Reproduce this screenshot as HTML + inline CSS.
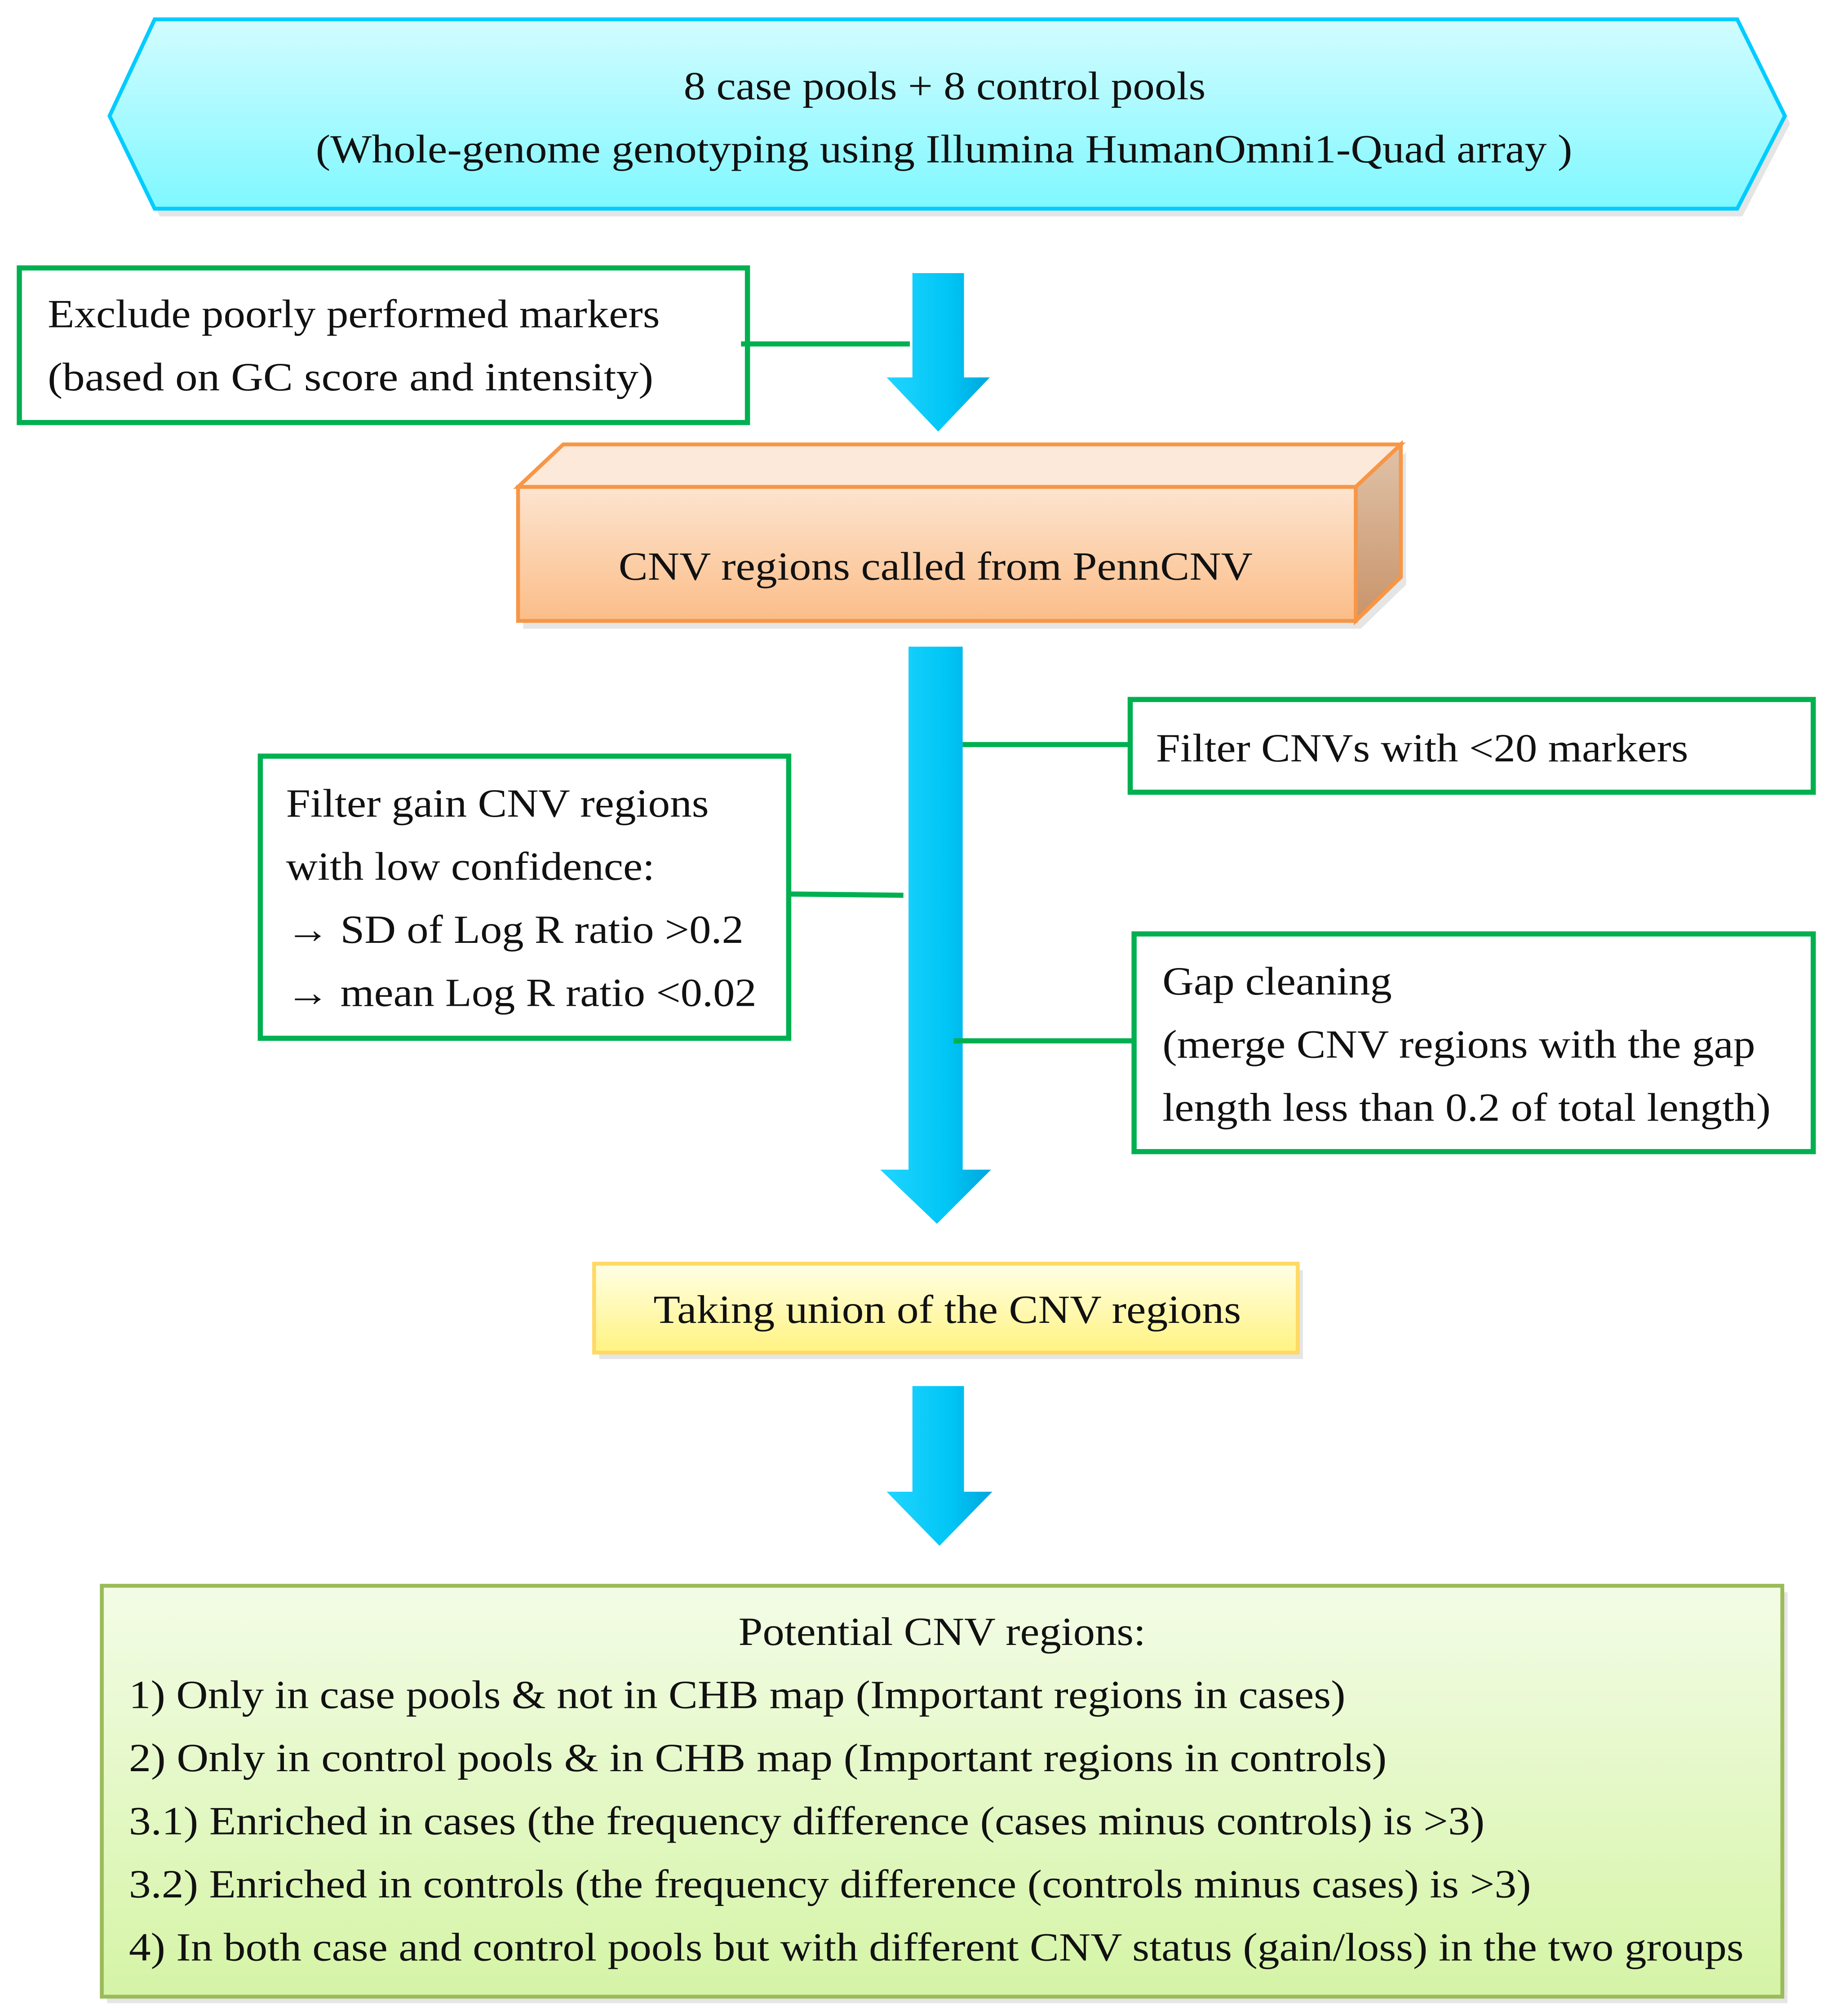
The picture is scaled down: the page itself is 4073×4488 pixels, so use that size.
<!DOCTYPE html>
<html><head><meta charset="utf-8"><style>html,body{margin:0;padding:0;background:#fff}svg{display:block}</style></head><body>
<svg width="4073" height="4488" viewBox="0 0 1420 1565" preserveAspectRatio="none" xmlns="http://www.w3.org/2000/svg" font-family="'Liberation Serif',serif" font-size="31" fill="#111">
<defs>
<linearGradient id="cy" x1="0" y1="0" x2="0" y2="1"><stop offset="0" stop-color="#d2fcff"/><stop offset="1" stop-color="#7ff8ff"/></linearGradient>
<linearGradient id="or" x1="0" y1="0" x2="0" y2="1"><stop offset="0" stop-color="#fde4cf"/><stop offset="1" stop-color="#fbbd88"/></linearGradient>
<linearGradient id="ye" x1="0" y1="0" x2="0" y2="1"><stop offset="0" stop-color="#ffffe6"/><stop offset="1" stop-color="#fff380"/></linearGradient>
<linearGradient id="gr" x1="0" y1="0" x2="0" y2="1"><stop offset="0" stop-color="#f3fce6"/><stop offset="1" stop-color="#d5f4a6"/></linearGradient>
<linearGradient id="ar" x1="0" y1="0" x2="1" y2="0"><stop offset="0" stop-color="#22d4ff"/><stop offset="0.6" stop-color="#00c6f6"/><stop offset="1" stop-color="#00a6dc"/></linearGradient>
<linearGradient id="sd" x1="0" y1="0" x2="0" y2="1"><stop offset="0" stop-color="#e0c2a8"/><stop offset="1" stop-color="#c8946a"/></linearGradient>
</defs>
<!-- hexagon -->
<polygon points="124,21 1352,21 1389,96 1352,168 124,168 89,96" fill="#ccc" opacity="0.5"/>
<polygon points="120,15 1348,15 1385,90 1348,162 120,162 85,90" fill="url(#cy)" stroke="#00ccff" stroke-width="3"/>
<text x="733" y="77" text-anchor="middle" textLength="405" lengthAdjust="spacingAndGlyphs">8 case pools + 8 control pools</text>
<text x="245" y="126" textLength="975" lengthAdjust="spacingAndGlyphs">(Whole-genome genotyping using Illumina HumanOmni1-Quad array )</text>
<!-- box1 -->
<rect x="15" y="208" width="565" height="120" fill="#fff" stroke="#00b050" stroke-width="4"/>
<text x="37" y="254" textLength="475" lengthAdjust="spacingAndGlyphs">Exclude poorly performed markers</text>
<text x="37" y="303" textLength="470" lengthAdjust="spacingAndGlyphs">(based on GC score and  intensity)</text>
<line x1="575" y1="267" x2="706" y2="267" stroke="#00b050" stroke-width="4"/>
<polygon points="708,212 748,212 748,293 768,293 728,335 688,293 708,293" fill="url(#ar)"/>
<!-- orange -->
<polygon points="406,384 1056,384 1091,351 1091,454 1056,488 406,488" fill="#ccc" opacity="0.5"/>
<polygon points="402,378 437,345 1087,345 1052,378" fill="#fde9d9" stroke="#f79646" stroke-width="3"/>
<polygon points="1052,378 1087,345 1087,448 1052,482" fill="url(#sd)" stroke="#f79646" stroke-width="3"/>
<rect x="402" y="378" width="650" height="104" fill="url(#or)" stroke="#f79646" stroke-width="3"/>
<text x="480" y="450" textLength="492" lengthAdjust="spacingAndGlyphs">CNV regions called from PennCNV</text>
<!-- arrow 2 -->
<polygon points="705,502 747,502 747,908 769,908 727,950 683,908 705,908" fill="url(#ar)"/>
<line x1="747" y1="578" x2="877" y2="578" stroke="#00b050" stroke-width="4"/>
<rect x="877" y="543" width="530" height="72" fill="#fff" stroke="#00b050" stroke-width="4"/>
<text x="897" y="591" textLength="413" lengthAdjust="spacingAndGlyphs">Filter  CNVs with &lt;20 markers</text>
<line x1="612" y1="694" x2="701" y2="695" stroke="#00b050" stroke-width="4"/>
<rect x="202" y="587" width="410" height="219" fill="#fff" stroke="#00b050" stroke-width="4"/>
<text x="222" y="634" textLength="328" lengthAdjust="spacingAndGlyphs">Filter gain CNV regions</text>
<text x="222" y="683" textLength="286" lengthAdjust="spacingAndGlyphs">with low confidence:</text>
<text x="222" y="732" textLength="355" lengthAdjust="spacingAndGlyphs">→ SD of Log R ratio &gt;0.2</text>
<text x="222" y="781" textLength="365" lengthAdjust="spacingAndGlyphs">→ mean Log R ratio &lt;0.02</text>
<line x1="740" y1="808" x2="880" y2="808" stroke="#00b050" stroke-width="4"/>
<rect x="880" y="725" width="527" height="169" fill="#fff" stroke="#00b050" stroke-width="4"/>
<text x="902" y="772" textLength="178" lengthAdjust="spacingAndGlyphs">Gap cleaning</text>
<text x="902" y="821" textLength="460" lengthAdjust="spacingAndGlyphs">(merge CNV regions with the gap</text>
<text x="902" y="870" textLength="472" lengthAdjust="spacingAndGlyphs">length less than 0.2  of total length)</text>
<!-- yellow -->
<rect x="465" y="986" width="546" height="69" fill="#ccc" opacity="0.5"/>
<rect x="461" y="981" width="546" height="69" fill="url(#ye)" stroke="#ffd966" stroke-width="3"/>
<text x="507" y="1027" textLength="456" lengthAdjust="spacingAndGlyphs">Taking  union of the CNV regions</text>
<polygon points="708,1076 748,1076 748,1158 770,1158 729,1200 688,1158 708,1158" fill="url(#ar)"/>
<!-- bottom -->
<rect x="83" y="1236" width="1304" height="319" fill="#ccc" opacity="0.5"/>
<rect x="79" y="1231" width="1304" height="319" fill="url(#gr)" stroke="#9bbb59" stroke-width="3"/>
<text x="573" y="1277" textLength="316" lengthAdjust="spacingAndGlyphs">Potential CNV regions:</text>
<text x="100" y="1326" textLength="944" lengthAdjust="spacingAndGlyphs">1) Only in case pools &amp; not in CHB map (Important regions in cases)</text>
<text x="100" y="1375" textLength="976" lengthAdjust="spacingAndGlyphs">2) Only in control  pools &amp; in CHB map (Important regions in controls)</text>
<text x="100" y="1424" textLength="1052" lengthAdjust="spacingAndGlyphs">3.1) Enriched in cases (the frequency difference (cases minus controls) is &gt;3)</text>
<text x="100" y="1473" textLength="1088" lengthAdjust="spacingAndGlyphs">3.2) Enriched in controls (the frequency difference (controls minus cases) is &gt;3)</text>
<text x="100" y="1522" textLength="1253" lengthAdjust="spacingAndGlyphs">4) In both case and control pools but with different CNV status (gain/loss) in the two groups</text>
</svg>
</body></html>
